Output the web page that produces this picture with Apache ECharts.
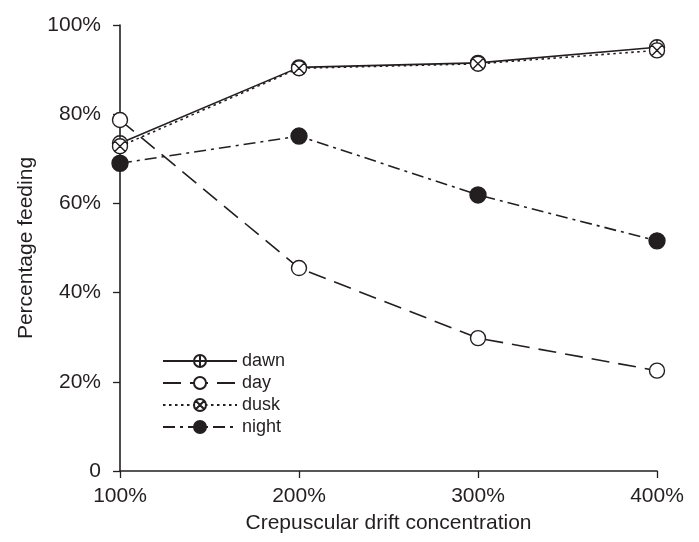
<!DOCTYPE html>
<html>
<head>
<meta charset="utf-8">
<script src="https://cdn.jsdelivr.net/npm/echarts@6/dist/echarts.min.js"></script>
<style>
html, body { margin: 0; padding: 0; background: #fff; }
#chart { width: 699px; height: 542px; }
</style>
</head>
<body>
<div id="chart"></div>
<script>
var concentrations = [100, 200, 300, 400];
var dawn = [73.5, 90.5, 91.5, 95.0];
var day = [78.7, 45.5, 29.8, 22.5];
var dusk = [72.8, 90.3, 91.3, 94.3];
var night = [69.0, 75.1, 61.9, 51.6];

var ink = '#231f20';
var font = 'Liberation Sans, Arial, sans-serif';

/* circle symbols with cross / plus */
var plusCircle = 'path://M0,-10 A10,10 0 1,1 0,10 A10,10 0 1,1 0,-10 Z M-10,0 L10,0 M0,-10 L0,10';
var crossCircle = 'path://M0,-10 A10,10 0 1,1 0,10 A10,10 0 1,1 0,-10 Z M-7.07,-7.07 L7.07,7.07 M7.07,-7.07 L-7.07,7.07';

function pairs(vals) {
    return concentrations.map(function (c, i) { return [c, vals[i]]; });
}

function makeSeries(name, vals, symbol, fill, dash, size) {
    return {
        name: name,
        type: 'line',
        data: pairs(vals),
        symbol: symbol,
        symbolSize: size,
        showAllSymbol: true,
        itemStyle: { color: fill, borderColor: ink, borderWidth: 1.4, opacity: 1 },
        lineStyle: { color: ink, width: 1.6, type: dash },
        emphasis: { disabled: true },
        z: 3
    };
}

var chart = echarts.init(document.getElementById('chart'));

var option = {
    animation: false,
    textStyle: { fontFamily: font, color: ink },
    grid: { left: 120, right: 42, top: 25, bottom: 71 },
    legend: {
        left: 157,
        top: 347,
        orient: 'vertical',
        itemWidth: 74,
        itemHeight: 15,
        itemGap: 4,
        textStyle: { fontSize: 18, lineHeight: 16, color: ink, fontFamily: font },
        data: ['dawn', 'day', 'dusk', 'night']
    },
    xAxis: {
        type: 'value',
        min: 100,
        max: 400,
        interval: 100,
        name: 'Crepuscular drift concentration',
        nameLocation: 'middle',
        nameGap: 42,
        nameTextStyle: { fontSize: 21, color: ink },
        axisLine: { lineStyle: { color: ink, width: 1.6 } },
        axisTick: { show: true, length: 7, lineStyle: { color: ink, width: 1.3 } },
        axisLabel: { fontSize: 21, color: ink, margin: 15, formatter: function (v) { return v + '%'; } },
        splitLine: { show: false }
    },
    yAxis: {
        type: 'value',
        min: 0,
        max: 100,
        interval: 20,
        name: 'Percentage feeding',
        nameLocation: 'middle',
        nameGap: 82,
        nameTextStyle: { fontSize: 21, color: ink },
        axisLine: { show: true, lineStyle: { color: ink, width: 1.6 } },
        axisTick: { show: true, length: 7, lineStyle: { color: ink, width: 1.3 } },
        axisLabel: { fontSize: 21, color: ink, margin: 19, formatter: function (v) { return v === 0 ? '0' : v + '%'; } },
        splitLine: { show: false }
    },
    series: [
        makeSeries('dawn', dawn, plusCircle, '#fff', 'solid', 15),
        makeSeries('day', day, 'circle', '#fff', [18, 9], 15),
        makeSeries('dusk', dusk, crossCircle, '#fff', [2.5, 3.5], 15),
        makeSeries('night', night, 'circle', ink, [12, 5, 3, 5], 16)
    ]
};
chart.setOption(option);

window.addEventListener('resize', function () {
    chart.resize();
});
</script>
</body>
</html>
